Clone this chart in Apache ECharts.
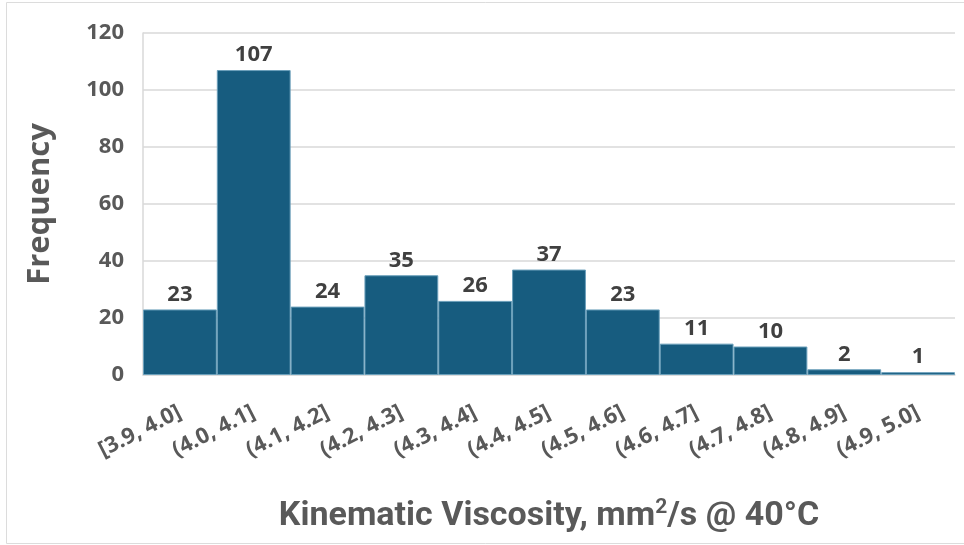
<!DOCTYPE html>
<html>
<head>
<meta charset="utf-8">
<script src="https://cdn.jsdelivr.net/npm/echarts@6/dist/echarts.min.js"></script>
<style>
html,body{margin:0;padding:0;background:#fff;}
#chart{width:964px;height:545px;}
</style>
</head>
<body>
<div id="chart"></div>
<script>
const categories = ['[3.9, 4.0]','(4.0, 4.1]','(4.1, 4.2]','(4.2, 4.3]','(4.3, 4.4]','(4.4, 4.5]','(4.5, 4.6]','(4.6, 4.7]','(4.7, 4.8]','(4.8, 4.9]','(4.9, 5.0]'];
const frequency = [23, 107, 24, 35, 26, 37, 23, 11, 10, 2, 1];
const yTicks = [0, 20, 40, 60, 80, 100, 120];
const xTitle = '{m|Kinematic Viscosity, mm}{s|2}{m|/s @ 40\u00B0C}';
const yTitle = 'Frequency';

const chart = echarts.init(document.getElementById('chart'), null, {renderer: 'canvas'});
chart.setOption({
  backgroundColor: '#ffffff',
  animation: false,
  graphic: [{
    type: 'rect', silent: true, z: -1,
    shape: {x: 6.5, y: 2.5, width: 990, height: 541},
    style: {fill: 'none', stroke: '#dcdcdc', lineWidth: 1}
  }],
  grid: {left: 143, right: 9, top: 33, bottom: 170, containLabel: false},
  xAxis: {
    type: 'category',
    data: categories,
    boundaryGap: true,
    axisLine: {show: true, lineStyle: {color: '#d9d9d9', width: 1.5}},
    axisTick: {show: false},
    axisLabel: {
      rotate: 27, margin: 36, interval: 0,
      color: '#595959', fontSize: 22, fontWeight: 'bold',
      fontFamily: 'Open Sans'
    },
    name: xTitle,
    nameLocation: 'middle',
    nameGap: 121,
    nameTextStyle: {
      color: '#595959', fontFamily: 'Roboto', fontWeight: 'bold',
      rich: {
        m: {fontSize: 34, fontWeight: 'bold', color: '#595959', fontFamily: 'Roboto', lineHeight: 40},
        s: {fontSize: 21, fontWeight: 'bold', color: '#595959', fontFamily: 'Roboto', lineHeight: 40, verticalAlign: 'top', padding: [1, 0, 0, 0]}
      }
    }
  },
  yAxis: {
    type: 'value',
    min: yTicks[0], max: yTicks[yTicks.length - 1], interval: 20,
    axisLine: {show: true, lineStyle: {color: '#d9d9d9', width: 1.5}},
    axisTick: {show: false},
    splitLine: {show: true, lineStyle: {color: '#d9d9d9', width: 1.5}},
    axisLabel: {
      margin: 19, color: '#595959', fontSize: 22, fontWeight: 'bold',
      fontFamily: 'Open Sans'
    },
    name: yTitle,
    nameLocation: 'middle',
    nameGap: 87,
    nameRotate: 90,
    nameTextStyle: {color: '#595959', fontSize: 31, fontWeight: 'bold', fontFamily: 'Open Sans'}
  },
  series: [{
    type: 'bar',
    data: frequency,
    barCategoryGap: 0,
    itemStyle: {color: '#175c7f', borderColor: '#6a9fba', borderWidth: 1},
    label: {
      show: true, position: 'top', distance: 4,
      color: '#404040', fontSize: 22, fontWeight: 'bold', fontFamily: 'Open Sans'
    }
  }]
});
</script>
</body>
</html>
